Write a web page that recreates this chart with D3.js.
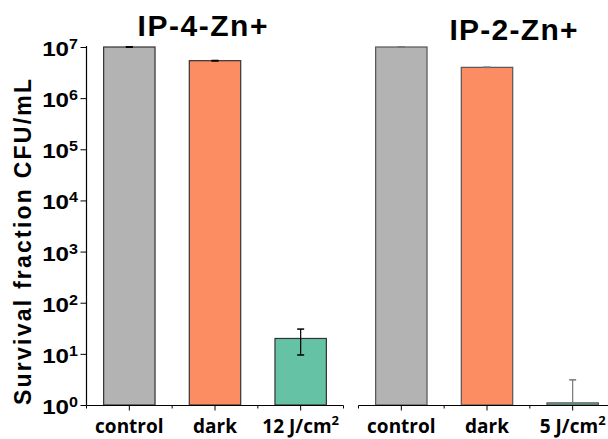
<!DOCTYPE html>
<html lang="en">
<head>
  <meta charset="UTF-8">
  <title>Survival fraction</title>
  <script src="https://d3js.org/d3.v7.min.js"></script>
  <style>
    body { margin: 0; background: #fff; }
    text { font-family: "Liberation Sans", Arial, sans-serif; font-weight: bold; fill: #000; }
    .xlab { font-family: "Open Sans", sans-serif; }
  </style>
</head>
<body>
  <script>
    // data
    const catsLeft = ["control", "dark", "12 J/cm"];
    const catsRight = ["control", "dark", "5 J/cm"];
    const meansLeft = [1.0e7, 5.4e6, 20];
    const errsLeft = [1e5, 5e4, 10.5];
    const meansRight = [1.0e7, 4.0e6, 1.1];
    const errsRight = [1e5, 0, 2.0];
    const yTicks = [1, 10, 100, 1e3, 1e4, 1e5, 1e6, 1e7];
    const colors = ["#b3b3b3", "#fc8d62", "#66c2a5"];
    const titles = ["IP-4-Zn+", "IP-2-Zn+"];

    const width = 608, height = 439;
    const baseY = 405;

    var svg = d3.select("body").append("svg")
      .attr("width", width)
      .attr("height", height);

    const y = d3.scaleLog().domain([1, 1e7]).range([baseY, 47]);

    // one panel = bars + x axis + error bars
    function panel(cats, means, errs, x0, x1, stroke, errColor) {
      const x = d3.scaleBand().domain(cats).range([x0, x1])
        .paddingInner(0.4).paddingOuter(0.2);
      const g = svg.append("g");

      g.selectAll("rect.bar")
        .data(cats)
        .enter().append("rect")
        .attr("class", "bar")
        .attr("x", d => x(d))
        .attr("y", (d, i) => y(means[i]))
        .attr("width", x.bandwidth())
        .attr("height", (d, i) => baseY - y(means[i]))
        .attr("fill", (d, i) => colors[i])
        .attr("stroke", stroke)
        .attr("stroke-width", 1.2);

      // error bars
      cats.forEach(function (c, i) {
        const cx = x(c) + x.bandwidth() / 2;
        const top = y(means[i] + errs[i]);
        const lowVal = means[i] - errs[i];
        const bot = lowVal > 1 ? y(lowVal) : y(means[i]);
        g.append("line")
          .attr("x1", cx).attr("x2", cx)
          .attr("y1", top).attr("y2", bot)
          .attr("stroke", errColor).attr("stroke-width", 1.2);
        g.append("line")
          .attr("x1", cx - 3.5).attr("x2", cx + 3.5)
          .attr("y1", top).attr("y2", top)
          .attr("stroke", errColor).attr("stroke-width", 1.5);
        if (lowVal > 1) {
          g.append("line")
            .attr("x1", cx - 3.5).attr("x2", cx + 3.5)
            .attr("y1", bot).attr("y2", bot)
            .attr("stroke", errColor).attr("stroke-width", 1.5);
        }
      });

      // x axis: major ticks at centres, minor at band edges
      const ax = g.append("g").attr("transform", "translate(0," + (baseY + 0.5) + ")");
      ax.append("line")
        .attr("x1", x0).attr("x2", x1)
        .attr("stroke", "#000").attr("stroke-width", 1.2);
      const step = x.step();
      ax.selectAll("line.minor")
        .data(d3.range(cats.length + 1))
        .enter().append("line")
        .attr("class", "minor")
        .attr("x1", i => x0 + i * step).attr("x2", i => x0 + i * step)
        .attr("y1", 0).attr("y2", 3)
        .attr("stroke", "#000");
      ax.selectAll("line.major")
        .data(cats)
        .enter().append("line")
        .attr("class", "major")
        .attr("x1", d => x(d) + x.bandwidth() / 2).attr("x2", d => x(d) + x.bandwidth() / 2)
        .attr("y1", 0).attr("y2", 5)
        .attr("stroke", "#000");

      const lab = ax.selectAll("text")
        .data(cats)
        .enter().append("text")
        .attr("class", "xlab")
        .attr("x", d => x(d) + x.bandwidth() / 2)
        .attr("y", 27.5)
        .attr("text-anchor", "middle")
        .style("font-size", "19px");
      lab.append("tspan").text(d => d);
      lab.filter(d => d.indexOf("J/cm") >= 0)
        .append("tspan")
        .attr("dy", -8)
        .style("font-size", "13px")
        .text("2");
    }

    panel(catsLeft, meansLeft, errsLeft, 86.5, 343.5, "#333", "#000");
    panel(catsRight, meansRight, errsRight, 358.5, 615.5, "#555", "#777");

    // y axis
    const yAxis = svg.append("g").attr("transform", "translate(86.5,0)");
    yAxis.append("line")
      .attr("y1", y(1e7) - 1).attr("y2", baseY)
      .attr("stroke", "#000").attr("stroke-width", 1.2);
    const tk = yAxis.selectAll("g.tick")
      .data(yTicks)
      .enter().append("g")
      .attr("class", "tick")
      .attr("transform", d => "translate(0," + (y(d) + 0.5) + ")");
    tk.append("line")
      .attr("x1", -6).attr("x2", 0)
      .attr("stroke", "#000");
    const tl = tk.append("text")
      .attr("transform", "translate(-8.5,8.5) scale(1.15,1)")
      .attr("text-anchor", "end")
      .style("font-size", "21px");
    tl.append("tspan").text("10");
    tl.append("tspan")
      .attr("dy", -7)
      .style("font-size", "14px")
      .text(d => Math.round(Math.log10(d)));

    // y label
    svg.append("text")
      .attr("transform", "translate(30.5,242) rotate(-90)")
      .attr("text-anchor", "middle")
      .attr("textLength", 326)
      .attr("lengthAdjust", "spacing")
      .style("font-size", "23px")
      .text("Survival fraction CFU/mL");

    // panel titles
    svg.append("text")
      .attr("x", 202.5).attr("y", 36)
      .attr("text-anchor", "middle")
      .attr("textLength", 130)
      .attr("lengthAdjust", "spacing")
      .style("font-size", "30px")
      .text(titles[0]);
    svg.append("text")
      .attr("x", 513.5).attr("y", 40)
      .attr("text-anchor", "middle")
      .attr("textLength", 128)
      .attr("lengthAdjust", "spacing")
      .style("font-size", "30px")
      .text(titles[1]);
  </script>
</body>
</html>
